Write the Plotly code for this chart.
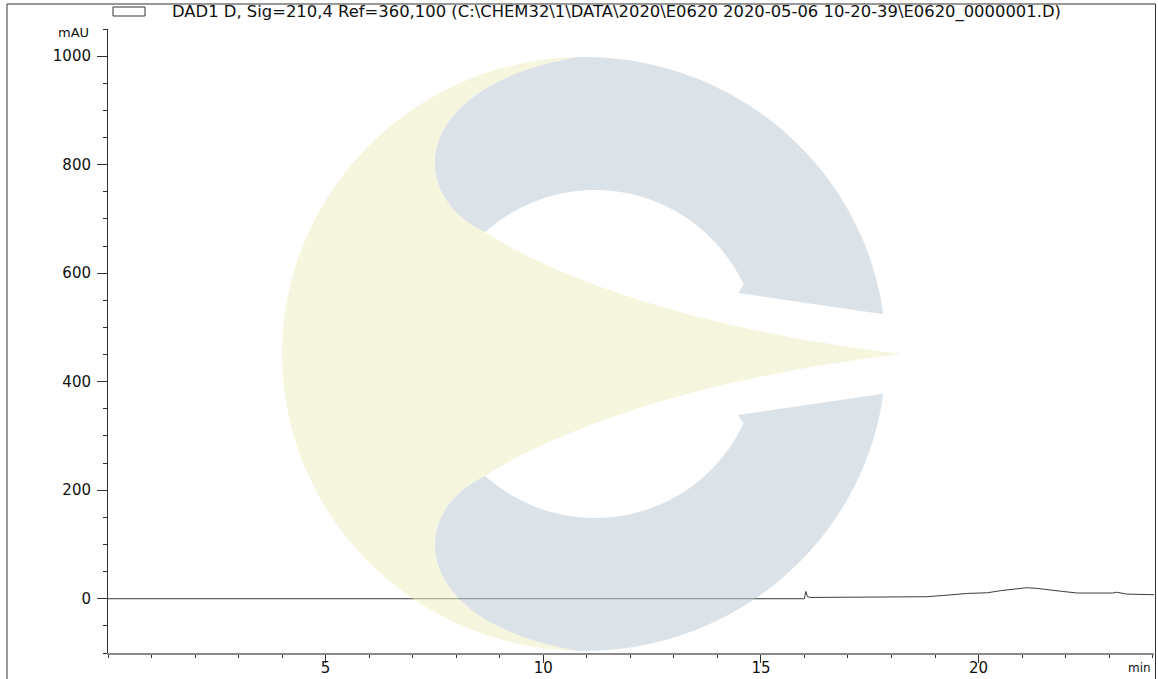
import numpy as np
import plotly.graph_objects as go

# ---------------- data ----------------
time_min = [0.0, 16.00, 16.03, 16.07, 16.13, 17.0, 18.0, 18.8, 19.2, 19.75,
            20.2, 20.5, 21.1, 21.35, 21.93, 22.27, 23.08, 23.17, 23.4, 24.03]
signal_mau = [0.0, 0.0, 13.5, 4.0, 2.4, 2.6, 3.0, 3.7, 6.1, 9.8,
              11.0, 14.8, 20.3, 19.0, 13.5, 10.5, 10.5, 12.0, 8.6, 7.4]
y_tick_values = [0, 200, 400, 600, 800, 1000]
x_tick_values = [5, 10, 15, 20]
title_text = ("DAD1 D, Sig=210,4 Ref=360,100 "
              "(C:\\CHEM32\\1\\DATA\\2020\\E0620 2020-05-06 10-20-39\\E0620_0000001.D)")
y_unit = "mAU"
x_unit = "min"

# ---------------- geometry ----------------
W, H = 1158, 679
L, R, T, B = 108, 4, 29, 26
PW, PH = W - L - R, H - T - B
FONT = "DejaVu Sans"


def pp(px, py):
    """pixel (page) -> paper coordinates"""
    return (px - L) / PW, (H - B - py) / PH


def fmt(pt):
    x, y = pp(*pt)
    return f"{x:.5f},{y:.5f}"


def arc(cx, cy, rx, ry, a0, a1, n=60):
    ang = np.radians(np.linspace(a0, a1, n))
    return [(cx + rx * np.cos(a), cy - ry * np.sin(a)) for a in ang]


def poly(points):
    return " ".join("L" + fmt(p) for p in points)


def cubic(p1, p2, p3):
    return "C" + fmt(p1) + " " + fmt(p2) + " " + fmt(p3)


# watermark logo (decorative)
cx, cy, rx, ry = 584, 354, 302, 297
hx, hy, hr = 595, 354, 164
top_pt = arc(cx, cy, rx, ry, 91, 91, 1)[0]
bot_pt = arc(cx, cy, rx, ry, 269, 269, 1)[0]


def mir(p):
    return (p[0], 2 * cy - p[1])


yellow = ("M" + fmt(top_pt) + " " + poly(arc(cx, cy, rx, ry, 91, 269)) + " "
          + cubic(mir((410, 85)), mir((405, 195)), mir((485, 232))) + " "
          + cubic(mir((560, 280)), mir((700, 330)), (902, 354)) + " "
          + cubic((700, 330), (560, 280), (485, 232)) + " "
          + cubic((405, 195), (410, 85), top_pt) + " Z")

blue_up = ("M" + fmt(top_pt) + " " + poly(arc(cx, cy, rx, ry, 91, 7.7)) + " "
           + "L" + fmt((738, 293)) + " " + poly(arc(hx, hy, hr, hr, 25, 132)) + " "
           + cubic((405, 195), (410, 85), top_pt) + " Z")
blue_dn = ("M" + fmt(bot_pt) + " " + poly(arc(cx, cy, rx, ry, 269, 352.3)) + " "
           + "L" + fmt(mir((738, 293))) + " " + poly(arc(hx, hy, hr, hr, 335, 228)) + " "
           + cubic(mir((405, 195)), mir((410, 85)), bot_pt) + " Z")

fig = go.Figure()
fig.add_trace(go.Scatter(x=time_min, y=signal_mau, mode="lines",
                         line=dict(color="#3c3c3c", width=1), showlegend=False,
                         hoverinfo="skip"))

shapes = []
for path, col in [(yellow, "#EFEFC4"), (blue_up, "#BFCCD5"), (blue_dn, "#BFCCD5")]:
    shapes.append(dict(type="path", path=path, xref="paper", yref="paper",
                       fillcolor=col, line=dict(width=0), opacity=0.55, layer="above"))

# frame lines
x7, _ = pp(7, 0)
x1155, _ = pp(1155.5, 0)
_, ytop = pp(0, 4)
_, yH = pp(0, H)
line_frame = dict(color="#333333", width=1)
shapes.append(dict(type="line", xref="paper", yref="paper", x0=x7, x1=x7, y0=yH, y1=ytop, line=line_frame))
shapes.append(dict(type="line", xref="paper", yref="paper", x0=x7, x1=x1155, y0=ytop, y1=ytop, line=line_frame))
shapes.append(dict(type="line", xref="paper", yref="paper", x0=x1155, x1=x1155, y0=yH, y1=ytop, line=line_frame))
# legend box
bx0, by0 = pp(113, 16)
bx1, by1 = pp(145, 7)
shapes.append(dict(type="rect", xref="paper", yref="paper", x0=bx0, x1=bx1, y0=by0, y1=by1,
                   line=dict(color="#333333", width=1), fillcolor="white"))

tx, ty = pp(170, 12.5)
annotations = [
    dict(text=title_text, xref="paper", yref="paper", x=tx, y=ty, xanchor="left",
         yanchor="middle", showarrow=False, font=dict(family=FONT, size=16.4, color="#111111")),
    dict(text=y_unit, xref="paper", yref="paper", x=pp(91, 0)[0], y=pp(0, 33)[1], xanchor="right",
         yanchor="middle", showarrow=False, font=dict(family=FONT, size=13, color="#111111")),
    dict(text=x_unit, xref="paper", yref="paper", x=pp(1153, 0)[0], y=pp(0, 668)[1], xanchor="right",
         yanchor="middle", showarrow=False, font=dict(family=FONT, size=12, color="#111111")),
]

fig.update_layout(
    width=W, height=H,
    margin=dict(l=L, r=R, t=T, b=B, pad=0, autoexpand=False),
    paper_bgcolor="white", plot_bgcolor="white",
    shapes=shapes, annotations=annotations, showlegend=False,
    xaxis=dict(range=[0, 24.03], showgrid=False, zeroline=False, automargin=False,
               showline=True, linecolor="#8a8a8a", linewidth=2,
               tickmode="array", tickvals=x_tick_values, ticks="outside", ticklen=8,
               tickcolor="#333333", tickwidth=1, ticklabelstandoff=-8,
               tickfont=dict(family=FONT, size=15, color="#111111"),
               minor=dict(dtick=1, tick0=0, ticks="outside", ticklen=3, tickcolor="#333333", showgrid=False)),
    yaxis=dict(range=[-100, 1050], showgrid=False, zeroline=False, automargin=False,
               showline=True, linecolor="#333333", linewidth=1,
               tickmode="array", tickvals=y_tick_values, ticks="outside", ticklen=10,
               tickcolor="#333333", tickwidth=1, ticklabelstandoff=3,
               tickfont=dict(family=FONT, size=15, color="#111111"),
               minor=dict(dtick=50, tick0=0, ticks="outside", ticklen=4, tickcolor="#333333", showgrid=False)),
)

fig.write_html("out.html", config={"displayModeBar": False},
               post_script="document.body.style.margin='0px';document.body.style.overflow='hidden';")
